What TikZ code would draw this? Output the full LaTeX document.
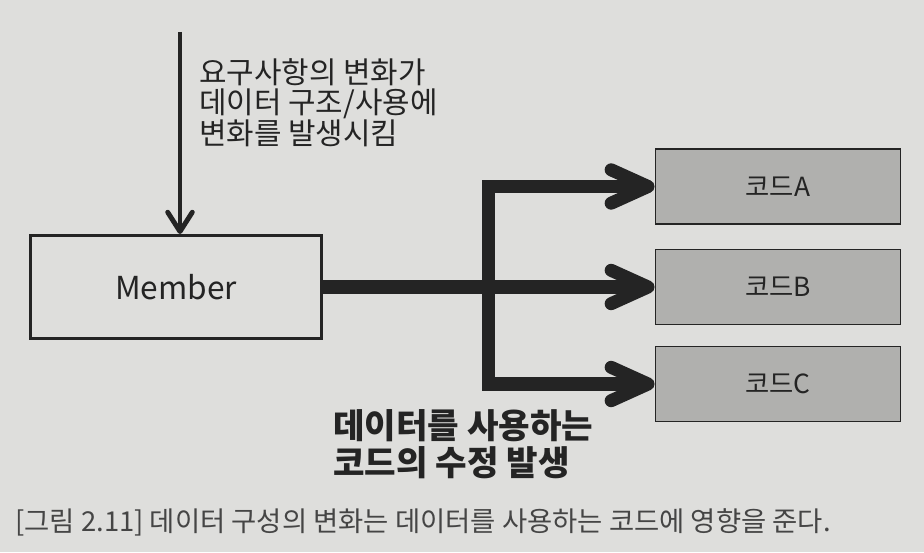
\documentclass[tikz,border=0pt]{standalone}
\usepackage{fontspec}
\setmainfont{Noto Sans CJK KR}
\usetikzlibrary{arrows.meta}
\definecolor{paper}{RGB}{222,222,220}
\definecolor{ink}{RGB}{36,36,36}
\definecolor{boxgray}{RGB}{176,176,174}

\begin{document}
\begin{tikzpicture}[x=0.02cm,y=0.02cm,
  codebox/.style={draw=ink,line width=1.1pt,fill=boxgray,text=ink,
    minimum width=4.9cm,minimum height=1.5cm,font=\fontsize{15}{17}\selectfont},
  flow/.style={draw=ink,line width=7.4pt},
  flowarrow/.style={flow,-{Straight Barb[length=21pt,width=19pt,round]}},
  thinarrow/.style={draw=ink,line width=2.8pt,-{Straight Barb[length=11pt,width=14pt,round]}}]
\fill[paper] (0,0) rectangle (924,552);
\useasboundingbox (0,0) rectangle (924,552);

\node[draw=ink,line width=1.7pt,minimum width=5.84cm,minimum height=2.06cm,
  text=ink,font=\fontsize{18}{20}\selectfont] (member) at (176,265) {Member};
\node[codebox] (codeA) at (778,365.5) {코드A};
\node[codebox] (codeB) at (778,265) {코드B};
\node[codebox] (codeC) at (778,168) {코드C};

\coordinate (top) at (180,520);
\coordinate (split) at (488,265);

% change comes in from above
\draw[thinarrow] (top) -- (top |- member.north);
\node[anchor=north west,align=left,inner sep=0,text=ink,
  font=\fontsize{17}{17.3}\selectfont] (note) at (199,494)
  {요구사항의 변화가\\데이터 구조/사용에\\변화를 발생시킴};

% fan out to the code
\draw[flow] (member.east) -- (split);
\draw[flowarrow] (split) |- (codeA.west);
\draw[flowarrow] (split) -- (codeB.west);
\draw[flowarrow] (split) |- (codeC.west);

\node[anchor=north west,align=left,inner sep=0,text=ink,
  font=\bfseries\fontsize{19.5}{21.3}\selectfont] (change) at (333,143)
  {데이터를 사용하는\\코드의 수정 발생};

\node[anchor=west,inner sep=0,text=ink!85,
  font=\fontsize{15.6}{17}\selectfont] (caption) at (15,30)
  {[그림 2.11] 데이터 구성의 변화는 데이터를 사용하는 코드에 영향을 준다.};
\end{tikzpicture}
\end{document}
